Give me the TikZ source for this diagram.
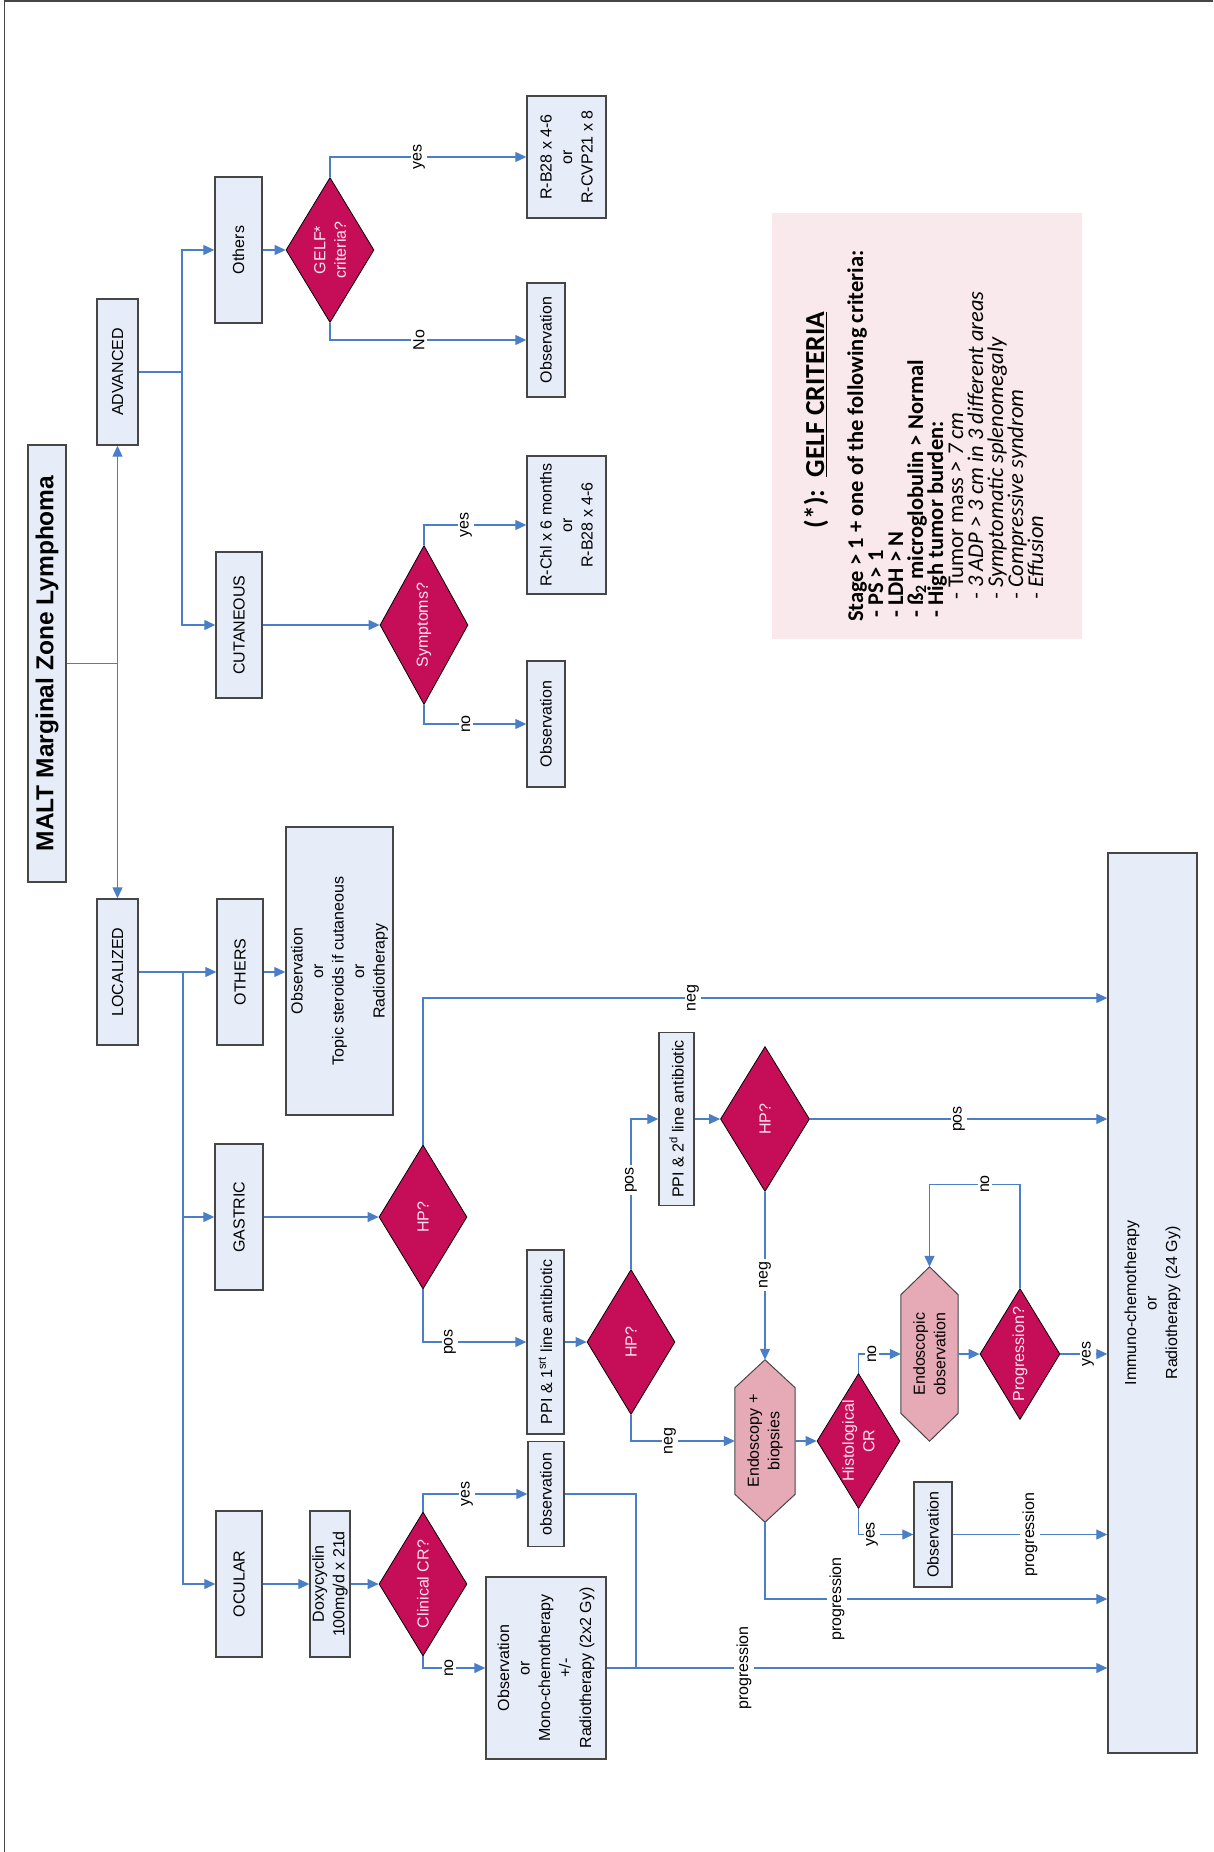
\documentclass[tikz,border=0pt]{standalone}
\usepackage{fontspec}
\setmainfont{Liberation Sans}
\newfontfamily\calfont{Carlito}
\usetikzlibrary{arrows.meta,shapes.geometric,backgrounds}
\definecolor{boxfill}{RGB}{230,236,248}
\definecolor{boxdraw}{RGB}{70,70,70}
\definecolor{link}{RGB}{74,126,198}
\definecolor{dia}{RGB}{198,14,88}
\definecolor{diatext}{RGB}{255,228,240}
\definecolor{hexfill}{RGB}{230,170,182}
\definecolor{gelfbg}{RGB}{249,232,236}
\newcommand\fm{\fontsize{16}{20.5}\selectfont}
\newcommand\gfont{\calfont\fontsize{22.5}{20}\selectfont\lineskiplimit=-50pt\relax}
\begin{document}
\begin{tikzpicture}[x=1pt,y=-1pt,
  box/.style={rectangle, draw=boxdraw, line width=1.4pt, fill=boxfill, inner sep=0pt},
  dec/.style={diamond, draw=black, line width=0.8pt, fill=dia, inner sep=0pt},
  hexn/.style={rectangle, inner sep=0pt},
  hex/.style={draw=boxdraw, line width=1pt, fill=hexfill},
  txt/.style={label={[rotate=90, align=center, font=\fm, inner sep=0pt]center:#1}},
  dtxt/.style={label={[rotate=90, align=center, font=\fm, text=diatext, inner sep=0pt]center:#1}},
  arr/.style={draw=link, line width=1.2pt, -{Triangle[length=11pt,width=10pt]}},
  ln/.style={draw=link, line width=1.2pt},
  lab/.style={rotate=90, fill=white, font=\fm, inner sep=2.5pt}]
\useasboundingbox (0,0) rectangle (1213,1852);
\draw[boxdraw, line width=1.5pt] (4.5,1852) -- (4.5,1.2) -- (1213,1.2);

% nodes
\node[box, minimum width=38pt, minimum height=437pt,
  label={[rotate=90, font=\fontsize{24.5}{28}\selectfont\bfseries, inner sep=0pt]center:MALT Marginal Zone Lymphoma}] (title) at (47,663.5) {};
\node[box, minimum width=41pt, minimum height=146pt, txt=ADVANCED] (adv) at (117.5,372) {};
\node[box, minimum width=41pt, minimum height=146pt, txt=LOCALIZED] (loc) at (117.5,972) {};
\node[box, minimum width=47pt, minimum height=146pt, txt=Others] (otha) at (238.5,250) {};
\node[dec, minimum width=88pt, minimum height=145pt, dtxt={GELF*\\criteria?}] (gelf) at (330,250) {};
\node[box, minimum width=79pt, minimum height=122pt, txt={R-B28 x 4-6\\or\\R-CVP21 x 8}] (rb) at (566.5,157) {};
\node[box, minimum width=38pt, minimum height=114pt, txt=Observation] (obsa) at (546,340) {};
\node[box, minimum width=46pt, minimum height=146pt, txt=CUTANEOUS] (cut) at (239,625) {};
\node[dec, minimum width=88pt, minimum height=159pt, dtxt={Symptoms?}] (symp) at (424,625) {};
\node[box, minimum width=79pt, minimum height=138pt, txt={R-Chl x 6 months\\or\\R-B28 x 4-6}] (rchl) at (566.5,525) {};
\node[box, minimum width=38pt, minimum height=126pt, txt=Observation] (obsc) at (546,724) {};
\node[box, minimum width=46pt, minimum height=146pt, txt=OTHERS] (othl) at (240,972) {};
\node[box, minimum width=107pt, minimum height=288pt, txt={Observation\\or\\Topic steroids if cutaneous\\or\\Radiotherapy}] (topic) at (339.5,971) {};
\node[box, minimum width=48pt, minimum height=146pt, txt=GASTRIC] (gas) at (239,1217) {};
\node[dec, minimum width=88pt, minimum height=144pt, dtxt={HP?}] (hpa) at (423,1217) {};
\node[box, minimum width=46pt, minimum height=146pt, txt=OCULAR] (ocu) at (239,1584) {};
\node[box, minimum width=40pt, minimum height=146pt, txt={Doxycyclin\\100mg/d x 21d}] (doxy) at (330,1584) {};
\node[dec, minimum width=88pt, minimum height=144pt, dtxt={Clinical CR?}] (ccr) at (423,1584) {};
\node[box, minimum width=36pt, minimum height=105pt, txt=observation] (obsb) at (546,1494) {};
\node[box, minimum width=120pt, minimum height=182pt, txt={Observation\\or\\Mono-chemotherapy\\+/-\\Radiotherapy (2x2 Gy)}] (mono) at (546,1668) {};
\node[box, minimum width=37pt, minimum height=184pt, txt={PPI \& 1\textsuperscript{srt} line antibiotic}] (ppia) at (545.5,1342) {};
\node[dec, minimum width=88pt, minimum height=145pt, dtxt={HP?}] (hpb) at (631,1342) {};
\node[box, minimum width=35pt, minimum height=173pt, txt={PPI \& 2\textsuperscript{d} line antibiotic}] (ppib) at (676.5,1119) {};
\node[dec, minimum width=89pt, minimum height=145pt, dtxt={HP?}] (hpc) at (765,1119) {};
\node[hexn, minimum width=60pt, minimum height=162pt, txt={Endoscopy +\\biopsies}] (endo) at (765,1441) {};
\node[dec, minimum width=83pt, minimum height=135pt, dtxt={Histological\\CR}] (hist) at (858.5,1441) {};
\node[hexn, minimum width=57pt, minimum height=174pt, txt={Endoscopic\\observation}] (eobs) at (929.5,1354) {};
\node[dec, minimum width=80pt, minimum height=131pt, dtxt={Progression?}] (prog) at (1020,1354) {};
\node[box, minimum width=38pt, minimum height=105pt, txt=Observation] (obsd) at (933,1534.5) {};
\node[box, minimum width=89pt, minimum height=900pt, txt={Immuno-chemotherapy\\or\\Radiotherapy (24 Gy)}] (imm) at (1152.5,1303) {};

\begin{scope}[on background layer]
\foreach \n in {endo,eobs}
  \draw[hex] (\n.north) -- ([yshift=-28pt]\n.north east) -- ([yshift=28pt]\n.south east)
    -- (\n.south) -- ([yshift=28pt]\n.south west) -- ([yshift=-28pt]\n.north west) -- cycle;
\end{scope}

% GELF criteria box
\node[fill=gelfbg, minimum width=310pt, minimum height=426pt, inner sep=0pt] (gbox) at (927,426) {};
\node[rotate=90, inner sep=0pt, font=\calfont\fontsize{27.5}{30}\selectfont\bfseries] (ghead) at (816,420)
  {(*):\ \ \underline{GELF CRITERIA}};
\node[rotate=90, anchor=north west, inner sep=0pt, align=left, font=\gfont] (gtext) at (847,622) {%
\textbf{Stage > 1 + one of the following criteria:}\\
\hspace*{4pt}\textbf{- PS > 1}\\
\hspace*{4pt}\textbf{- LDH > N}\\
\hspace*{4pt}\textbf{- ß\textsubscript{2} microglobulin > Normal}\\
\hspace*{4pt}\textbf{- High tumor burden:}\\
\hspace*{22pt}- Tumor mass \textit{> 7 cm}\\
\hspace*{22pt}\textit{- 3 ADP > 3 cm in 3 different areas}\\
\hspace*{22pt}\textit{- Symptomatic splenomegaly}\\
\hspace*{22pt}\textit{- Compressive syndrom}\\
\hspace*{22pt}\textit{- Effusion}};

% connectors
\coordinate (tj) at (117.5,663.5);
\draw[ln] (title.east) -- (tj);
\draw[arr] (tj) -- (adv.south);
\draw[arr] (tj) -- (loc.north);
\coordinate (aj) at (182,372);
\draw[ln] (adv.east) -- (aj);
\draw[arr] (aj) |- (otha);
\draw[arr] (aj) |- (cut);
\draw[arr] (otha) -- (gelf);
\draw[arr] (gelf.north) |- (rb);
\draw[arr] (gelf.south) |- (obsa);
\draw[arr] (cut) -- (symp);
\draw[arr] (symp.north) |- (rchl);
\draw[arr] (symp.south) |- (obsc);
\coordinate (lj) at (183,972);
\draw[ln] (loc.east) -- (lj);
\draw[arr] (lj) -- (othl);
\draw[arr] (lj) |- (gas);
\draw[arr] (lj) |- (ocu);
\draw[arr] (othl.east) -- (topic.west |- othl.east);
\draw[arr] (gas) -- (hpa);
\draw[arr] (hpa.north) |- (imm.west |- 0,998);
\draw[arr] (hpa.south) |- (ppia);
\draw[arr] (ppia) -- (hpb);
\draw[arr] (hpb.north) |- (ppib);
\draw[arr] (ppib) -- (hpc);
\draw[arr] (hpc) -- (imm.west |- hpc);
\draw[arr] (hpc.south) -- (endo.north);
\draw[arr] (hpb.south) |- (endo);
\draw[arr] (endo) -- (hist);
\draw[arr] (hist.north) |- (eobs);
\draw[arr] (eobs) -- (prog);
\draw[arr] (prog.north) -- ++(0,-104) -| (eobs.north);
\draw[arr] (prog) -- (imm.west |- prog);
\draw[arr] (hist.south) |- (obsd);
\draw[arr] (obsd) -- (imm.west |- obsd);
\draw[arr] (endo.south) |- (imm.west |- 0,1599);
\draw[arr] (ocu) -- (doxy);
\draw[arr] (doxy) -- (ccr);
\draw[arr] (ccr.north) |- (obsb);
\draw[arr] (ccr.south) |- (mono);
\coordinate (oj) at (636,1668);
\draw[ln] (obsb.east) -| (oj);
\draw[arr] (mono) -- (imm.west |- mono);

% connector labels
\node[lab] (l1) at (419,157) {yes};
\node[lab] (l2) at (419,340) {No};
\node[lab] (l3) at (466,525) {yes};
\node[lab] (l4) at (466,724) {no};
\node[lab] (l5) at (693,998) {neg};
\node[lab] (l6) at (450,1342) {pos};
\node[lab] (l7) at (631,1180) {pos};
\node[lab] (l8) at (959,1119) {pos};
\node[lab] (l9) at (765,1275) {neg};
\node[lab] (l10) at (670,1441) {neg};
\node[lab] (l11) at (872,1354) {no};
\node[lab] (l12) at (985,1184) {no};
\node[lab] (l13) at (1088,1354) {yes};
\node[lab] (l14) at (872,1534.5) {yes};
\node[lab] (l15) at (1030,1534.5) {progression};
\node[lab] (l16) at (837,1599) {progression};
\node[lab] (l17) at (467,1494) {yes};
\node[lab] (l18) at (449,1668) {no};
\node[lab] (l19) at (744,1668) {progression};
\end{tikzpicture}
\end{document}
